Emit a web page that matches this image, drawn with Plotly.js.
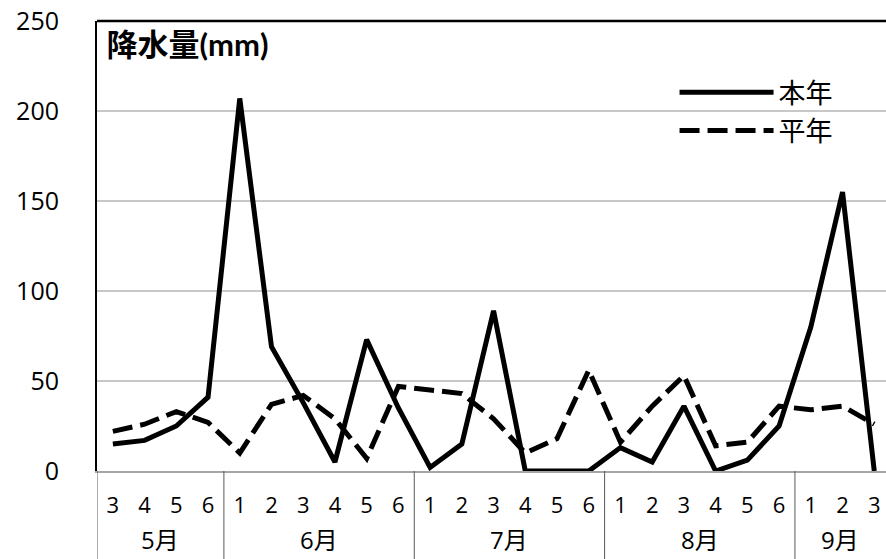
<!DOCTYPE html>
<html>
<head>
<meta charset="utf-8">
<script src="https://cdn.plot.ly/plotly-3.0.1.min.js"></script>
<style>html,body{margin:0;padding:0;background:#fff;}#chart{width:886px;height:559px;}</style>
</head>
<body>
<div id="chart"></div>
<script>
const monthLabels = ['5月','5月','5月','5月','6月','6月','6月','6月','6月','6月','7月','7月','7月','7月','7月','7月','8月','8月','8月','8月','8月','8月','9月','9月','9月'];
const dayLabels = ['3','4','5','6','1','2','3','4','5','6','1','2','3','4','5','6','1','2','3','4','5','6','1','2','3'];
const thisYear = [15,17,25,41,207,69,38,5,73,35,2,15,89,0,0,0,13,5,36,0,6,25,80,155,0];
const normalYear = [22,26,33,27,10,37,42,29,7,47,45,43,29,10,18,56,16,36,53,14,16,36,34,36,26];
const seriesNames = ['本年','平年'];
const yTicks = [0,50,100,150,200,250];
const chartTitle = '降水量(mm)';

const FONT = '"Open Sans", "Noto Sans CJK JP", sans-serif';
const TITLE_FONT = 'Lato, "Noto Sans CJK JP", sans-serif';
const X_MIN = -0.5, X_MAX = 24.37;

// unique category keys (month + day) so the axis keeps the original order
const catKeys = monthLabels.map((m, i) => m + '-' + dayLabels[i]);

// month groups derived from the label arrays
const groups = [];
monthLabels.forEach((m, i) => {
  if (!groups.length || groups[groups.length - 1].name !== m) groups.push({name: m, start: i, end: i});
  else groups[groups.length - 1].end = i;
});

const annotations = groups.map(g => {
  const lo = g.start - 0.5, hi = Math.min(g.end + 0.5, X_MAX);
  return {text: g.name, xref: 'x', yref: 'paper', x: (lo + hi) / 2, y: -0.153,
          xanchor: 'center', yanchor: 'middle', showarrow: false,
          font: {size: 24, family: FONT, color: '#000'}};
});

const dividerShapes = groups.map(g => ({
  type: 'line', xref: 'x', yref: 'paper', x0: g.start - 0.5, x1: g.start - 0.5,
  y0: 0, y1: -0.2, line: {color: '#595959', width: 1}
}));

const traces = [
  {x: catKeys, y: thisYear, name: seriesNames[0], type: 'scatter', mode: 'lines',
   line: {color: '#000', width: 5}},
  {x: catKeys, y: normalYear, name: seriesNames[1], type: 'scatter', mode: 'lines',
   line: {color: '#000', width: 5, dash: '20px,8px'}}
];

const layout = {
  width: 886, height: 559,
  margin: {l: 97, r: 0, t: 21, b: 88},
  paper_bgcolor: '#fff', plot_bgcolor: '#fff',
  font: {family: FONT, color: '#000', size: 22},
  showlegend: true,
  legend: {x: 0.732, y: 0.895, xanchor: 'left', yanchor: 'top', bgcolor: 'rgba(0,0,0,0)',
           font: {size: 27, family: FONT}, itemwidth: 94, tracegroupgap: 0},
  title: {text: '<b>' + chartTitle + '</b>', xref: 'paper', yref: 'paper', x: 0.012, y: 0.947,
          xanchor: 'left', yanchor: 'middle', font: {size: 31, family: TITLE_FONT, color: '#000'}},
  xaxis: {type: 'category', categoryorder: 'array', categoryarray: catKeys,
          tickmode: 'array', tickvals: catKeys, ticktext: dayLabels,
          range: [X_MIN, X_MAX], showgrid: false, zeroline: false,
          showline: true, linecolor: '#a6a6a6', linewidth: 2,
          ticks: '', ticklabelstandoff: 14,
          tickfont: {size: 22, family: FONT, color: '#000'}, fixedrange: true},
  yaxis: {range: [0, 250], tickvals: yTicks, showgrid: true, gridcolor: '#c8c8c8', gridwidth: 1.5,
          zeroline: false, showline: true, linecolor: '#000', linewidth: 2,
          ticks: '', ticklabelstandoff: 31, tickfont: {size: 25, family: FONT, color: '#000'}, fixedrange: true},
  annotations: annotations,
  shapes: [{type: 'line', xref: 'paper', yref: 'paper', x0: 0, x1: 1, y0: 1, y1: 1,
            line: {color: '#000', width: 2.5}}].concat(dividerShapes)
};

Plotly.newPlot('chart', traces, layout, {displayModeBar: false, staticPlot: true});
</script>
</body>
</html>
